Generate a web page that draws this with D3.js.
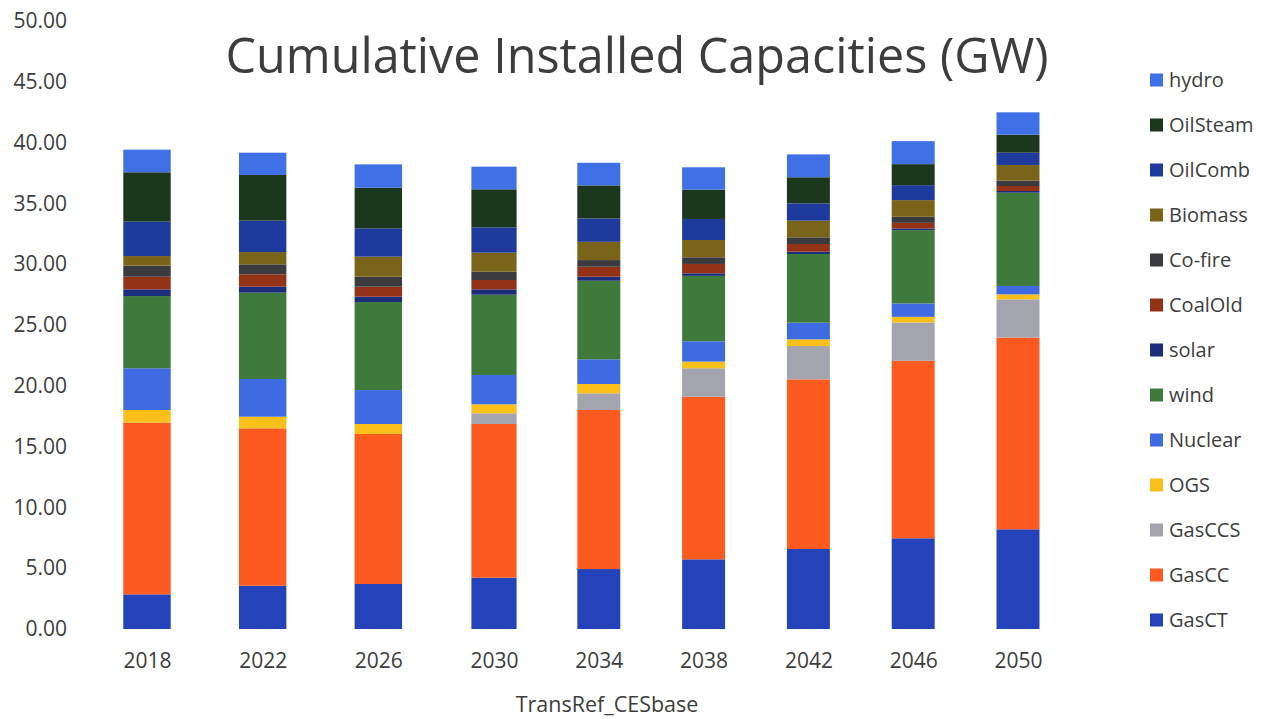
<!DOCTYPE html>
<html>
<head>
<meta charset="utf-8">
<script src="https://cdn.jsdelivr.net/npm/d3@7/dist/d3.min.js"></script>
<style>
  html, body { margin: 0; padding: 0; background: #ffffff; }
  svg { display: block; font-family: "Open Sans", "Noto Sans", sans-serif; }
</style>
</head>
<body>
<svg id="chart" width="1269" height="719"></svg>
<script>
// Model years on the x axis
const years = [2018, 2022, 2026, 2030, 2034, 2038, 2042, 2046, 2050];

// Technologies, stacked from the bottom of each bar upward
const techs = ["GasCT", "GasCC", "GasCCS", "OGS", "Nuclear", "wind", "solar",
               "CoalOld", "Co-fire", "Biomass", "OilComb", "OilSteam", "hydro"];

// Installed capacity per technology and year (GW)
const GasCT    = [2.85, 3.56, 3.70, 4.22, 4.93, 5.73, 6.58, 7.46, 8.20];
const GasCC    = [14.12, 12.94, 12.34, 12.64, 13.08, 13.37, 13.95, 14.59, 15.76];
const GasCCS   = [0.00, 0.00, 0.00, 0.88, 1.37, 2.34, 2.74, 3.16, 3.15];
const OGS      = [1.04, 0.96, 0.82, 0.74, 0.77, 0.55, 0.55, 0.46, 0.41];
const Nuclear  = [3.43, 3.10, 2.79, 2.41, 2.03, 1.67, 1.37, 1.10, 0.69];
const wind     = [5.94, 7.10, 7.24, 6.60, 6.46, 5.38, 5.65, 6.03, 7.67];
const solar    = [0.55, 0.49, 0.44, 0.44, 0.33, 0.21, 0.19, 0.14, 0.14];
const CoalOld  = [1.04, 1.02, 0.82, 0.77, 0.82, 0.77, 0.63, 0.46, 0.41];
const CoFire   = [0.91, 0.82, 0.82, 0.68, 0.55, 0.55, 0.55, 0.50, 0.44];
const Biomass  = [0.79, 1.01, 1.65, 1.57, 1.50, 1.42, 1.37, 1.37, 1.29];
const OilComb  = [2.83, 2.58, 2.33, 2.08, 1.92, 1.73, 1.42, 1.23, 1.01];
const OilSteam = [4.06, 3.76, 3.34, 3.13, 2.72, 2.41, 2.15, 1.73, 1.48];
const hydro    = [1.86, 1.83, 1.92, 1.86, 1.86, 1.84, 1.88, 1.89, 1.84];

// Y axis tick values
const yTicks = [0, 5, 10, 15, 20, 25, 30, 35, 40, 45, 50];

const seriesValues = {
  "GasCT": GasCT, "GasCC": GasCC, "GasCCS": GasCCS, "OGS": OGS,
  "Nuclear": Nuclear, "wind": wind, "solar": solar, "CoalOld": CoalOld,
  "Co-fire": CoFire, "Biomass": Biomass, "OilComb": OilComb,
  "OilSteam": OilSteam, "hydro": hydro
};

const colors = {
  "GasCT": "#2443bb", "GasCC": "#fc5a1f", "GasCCS": "#a4a4ae", "OGS": "#fbbf1a",
  "Nuclear": "#3e6be2", "wind": "#3f7a3d", "solar": "#1c2d7c", "CoalOld": "#943217",
  "Co-fire": "#3b3b3f", "Biomass": "#7a6419", "OilComb": "#1d3a9c",
  "OilSteam": "#1b381e", "hydro": "#4070e6"
};

const textColor = "#3d3d3d";

// Row records for d3.stack
const table = years.map((yr, i) => {
  const row = { year: yr };
  techs.forEach(t => { row[t] = seriesValues[t][i]; });
  return row;
});
const stacked = d3.stack().keys(techs)(table);

const svg = d3.select("#chart");

// Year spacing is wider on the early part of the axis than on the later part
const x = d3.scaleLinear().domain([2018, 2030, 2050]).range([147, 494, 1018]);
const y = d3.scaleLinear().domain([0, 50]).range([629, 21]);
const barW = yr => 0.41 * (x(yr + 2) - x(yr - 2));

// Title
svg.append("text")
  .attr("x", 637).attr("y", 73)
  .attr("text-anchor", "middle")
  .attr("font-size", 48.5)
  .attr("fill", textColor)
  .text("Cumulative Installed Capacities (GW)");

// Y axis labels
const yAxis = d3.axisLeft(y).tickValues(yTicks).tickFormat(d3.format(".2f")).tickSize(0).tickPadding(0);
const yg = svg.append("g").attr("transform", "translate(67,0)").call(yAxis);
yg.select(".domain").remove();
yg.selectAll("text").attr("font-size", 21).attr("fill", textColor)
  .attr("font-family", "'Open Sans', sans-serif");

// Stacked bars
const layers = svg.append("g").selectAll("g")
  .data(stacked).join("g")
  .attr("fill", d => colors[d.key]);
layers.selectAll("rect")
  .data(d => d)
  .join("rect")
  .attr("x", d => x(d.data.year) - barW(d.data.year) / 2)
  .attr("width", d => barW(d.data.year))
  .attr("y", d => y(d[1]))
  .attr("height", d => Math.max(0, y(d[0]) - y(d[1])));

// X axis labels
const xAxis = d3.axisBottom(x).tickValues(years).tickFormat(d3.format("d")).tickSize(0).tickPadding(0);
const xg = svg.append("g").attr("transform", "translate(0,653)").call(xAxis);
xg.select(".domain").remove();
xg.selectAll("text").attr("font-size", 21).attr("fill", textColor)
  .attr("font-family", "'Open Sans', sans-serif");

// X axis title
svg.append("text")
  .attr("x", 607).attr("y", 712)
  .attr("text-anchor", "middle")
  .attr("font-size", 21.5)
  .attr("fill", textColor)
  .text("TransRef_CESbase");

// Legend, top entry is the top of the stack
const legendOrder = techs.slice().reverse();
const legend = svg.append("g").selectAll("g")
  .data(legendOrder).join("g")
  .attr("transform", (d, i) => `translate(1150, ${80 + i * 45})`);
legend.append("rect")
  .attr("x", 0).attr("y", -6.5)
  .attr("width", 13).attr("height", 13)
  .attr("fill", d => colors[d]);
legend.append("text")
  .attr("x", 19).attr("y", 7)
  .attr("font-size", 20)
  .attr("fill", textColor)
  .text(d => d);
</script>
</body>
</html>
